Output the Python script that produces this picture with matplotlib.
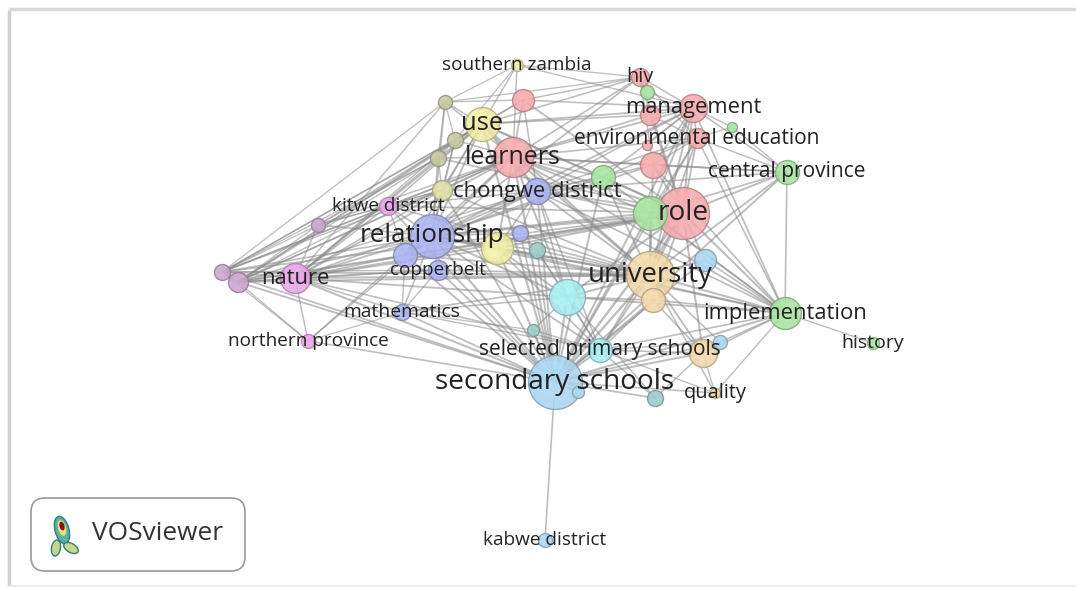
import matplotlib.pyplot as plt
from matplotlib.patches import FancyBboxPatch, Ellipse
import numpy as np

# node layout (map coordinates as exported from the VOSviewer view)
labels = ['secondary schools', 'university', 'role', 'relationship', 'learners',
          'use', 'chongwe district', 'nature', 'management', 'environmental education',
          'hiv', 'central province', 'implementation', 'history', 'selected primary schools',
          'quality', 'kabwe district', 'northern province', 'mathematics', 'copperbelt',
          'kitwe district', 'southern zambia',
          '', '', '', '', '', '', '', '', '', '', '', '', '', '', '', '', '', '', '', '',
          '', '', '', '', '', '']
node_x = [555, 650, 683, 432, 513, 482, 537, 295, 693, 697,
          640, 787, 785, 873, 600, 715, 545, 308, 402, 438,
          388, 517,
          650, 647, 653, 647, 732, 650, 603, 705, 567, 653, 703, 720, 655, 405,
          318, 222, 238, 497, 520, 537, 445, 455, 438, 442, 523, 533, 578]
node_y = [382, 275, 213, 236, 157, 124, 191, 278, 108, 138,
          77, 172, 313, 343, 350, 393, 540, 341, 312, 270,
          206, 65,
          115, 145, 165, 92, 127, 213, 177, 260, 297, 300, 353, 342, 398, 255,
          225, 272, 282, 248, 233, 250, 102, 140, 158, 190, 100, 330, 392]
node_size = [27, 24, 26, 22, 20, 17, 13, 15, 14, 10,
             9, 12, 16, 6, 12, 5, 7, 7, 8, 10,
             9, 6,
             10, 5, 13, 7, 5, 17, 12, 11, 18, 12, 14, 7, 8, 12,
             7, 8, 10, 16, 8, 8, 7, 8, 8, 10, 11, 6, 6]
cluster = ['sky', 'tan', 'pink', 'blue', 'pink', 'yellow', 'blue', 'magenta', 'pink', 'pink',
           'pink', 'green', 'green', 'green', 'cyan', 'tan', 'sky', 'magenta', 'blue', 'blue',
           'magenta', 'yellow',
           'pink', 'pink', 'pink', 'green', 'green', 'green', 'green', 'sky', 'cyan', 'tan',
           'tan', 'sky', 'teal', 'blue',
           'plum', 'plum', 'plum', 'yellow', 'blue', 'teal', 'olive', 'olive', 'olive', 'khaki',
           'pink', 'teal', 'sky']
label_px = [28, 27.5, 28, 26, 25, 25.5, 22, 22, 22, 21,
            20, 21, 22, 19.5, 21, 20, 19, 19, 19.3, 19,
            19, 19]

# links: node -> list of neighbours
links = {
    0: [1, 2, 3, 4, 5, 6, 7, 12, 14, 15, 16, 17, 18, 19, 20, 30, 31, 32, 34, 35, 37, 38,
        39, 40, 41, 47, 48, 27, 28, 29, 33, 8, 9, 11, 45],
    1: [2, 3, 4, 5, 6, 7, 12, 14, 15, 18, 19, 27, 28, 29, 30, 31, 32, 33, 35, 38, 39, 40,
        41, 8, 9, 11, 20, 24, 45, 37],
    2: [3, 4, 5, 6, 7, 8, 9, 10, 11, 12, 14, 22, 24, 27, 28, 29, 30, 31, 32, 35, 39, 44,
        38, 37, 20, 46],
    3: [4, 5, 6, 7, 12, 14, 18, 19, 20, 27, 28, 30, 35, 36, 37, 38, 39, 40, 41, 42, 43, 44,
        45, 17, 8, 10, 24],
    4: [5, 6, 7, 8, 9, 10, 11, 12, 20, 21, 22, 24, 27, 28, 30, 35, 36, 37, 38, 39, 42, 43,
        44, 45, 46],
    5: [6, 7, 8, 10, 21, 22, 42, 43, 44, 45, 46, 20, 36, 37, 38, 35, 28],
    6: [7, 8, 9, 11, 12, 14, 24, 27, 28, 30, 35, 38, 39, 40, 45, 46, 20],
    7: [17, 18, 19, 20, 35, 36, 37, 38, 39, 42, 43, 44, 45, 14, 30],
    8: [9, 10, 11, 22, 23, 24, 25, 26, 27, 28, 46, 21, 12],
    9: [10, 11, 22, 24, 26, 27, 12, 28],
    10: [21, 22, 25, 46, 42, 24],
    11: [12, 26, 27, 24],
    12: [13, 14, 27, 29, 30, 31, 32, 33, 15, 24, 28, 39],
    14: [15, 30, 31, 32, 33, 34, 47, 18, 39, 41],
    17: [18, 37, 38, 35],
    18: [19, 30, 35, 47],
    36: [37, 38, 45, 44],
    37: [38, 43, 44, 42, 45, 19],
    38: [43, 44, 45, 19, 35],
    42: [43, 44, 21, 46],
    43: [44, 45, 21, 46],
    44: [45],
    32: [15, 33, 34, 31],
    30: [31, 34, 41, 47, 39],
    20: [35, 36, 37, 38, 45],
}

palette = {
    'sky': '#a9d3ee', 'tan': '#efd5a8', 'pink': '#f2a9ad', 'blue': '#a9b2ee',
    'yellow': '#eeeaa4', 'magenta': '#e6a6e6', 'green': '#a6e0a0', 'cyan': '#a6eaee',
    'teal': '#9cc8c6', 'plum': '#c8a2cc', 'olive': '#c2c4a0', 'khaki': '#dcdca8',
}

fig = plt.figure(figsize=(10.76, 5.90), dpi=100)
ax = fig.add_axes([0, 0, 1, 1])
ax.set_xlim(0, 1076)
ax.set_ylim(590, 0)
ax.axis('off')

# page shadow
ax.plot([9, 9], [10, 586], color='#d0d0d0', lw=2.5, solid_capstyle='butt', zorder=0)
ax.plot([9, 1076], [9, 9], color='#d8d8d8', lw=2.5, solid_capstyle='butt', zorder=0)
ax.plot([9, 1076], [586, 586], color='#ececec', lw=1.5, solid_capstyle='butt', zorder=0)

# links
for a, nbrs in links.items():
    for b in nbrs:
        w = 0.6 + 0.045 * np.sqrt(node_size[a] * node_size[b])
        ax.plot([node_x[a], node_x[b]], [node_y[a], node_y[b]],
                color='#8a8a8a', lw=w, alpha=0.55, zorder=1, solid_capstyle='round')

# nodes
for i in range(len(node_x)):
    c = np.array(plt.matplotlib.colors.to_rgb(palette[cluster[i]]))
    s = (2 * node_size[i] * 0.72) ** 2
    ax.scatter(node_x[i], node_y[i], s=s, color=c, alpha=0.85,
               edgecolors=tuple(c * 0.75), linewidths=1.0, zorder=2)
    # soft highlight for a little depth
    ax.scatter(node_x[i] - node_size[i] * 0.15, node_y[i] - node_size[i] * 0.15,
               s=s * 0.45, color=tuple(np.minimum(c * 1.06, 1)), alpha=0.5,
               linewidths=0, zorder=2)

# labels
for i, lab in enumerate(labels):
    if lab:
        ax.text(node_x[i], node_y[i], lab, fontsize=label_px[i] * 0.72,
                family='Open Sans', color='#222222', ha='center', va='center', zorder=3)

# VOSviewer badge
box = FancyBboxPatch((31, 498), 214, 73, boxstyle='round,pad=0,rounding_size=14',
                     facecolor='white', edgecolor='#9a9a9a', lw=1.2, zorder=3)
ax.add_patch(box)
ax.add_patch(Ellipse((62, 530), 14, 28, angle=-15, facecolor='#5fb0a4', edgecolor='#2f7f80', lw=1, zorder=4))
ax.add_patch(Ellipse((56, 548), 9, 16, angle=10, facecolor='#c9d58a', edgecolor='#2f7f80', lw=1, zorder=4))
ax.add_patch(Ellipse((71, 548), 16, 9, angle=30, facecolor='#c9d58a', edgecolor='#2f7f80', lw=1, zorder=4))
ax.add_patch(Ellipse((62, 528), 8, 16, angle=-15, facecolor='#e8e07a', lw=0, zorder=5))
ax.add_patch(Ellipse((62, 526), 5, 9, angle=-15, facecolor='#8b1010', lw=0, zorder=6))
ax.text(92, 534, 'VOSviewer', fontsize=26.3 * 0.72, family='Open Sans',
        color='#333333', ha='left', va='center', zorder=4)

fig.savefig('out.png', dpi=100)
